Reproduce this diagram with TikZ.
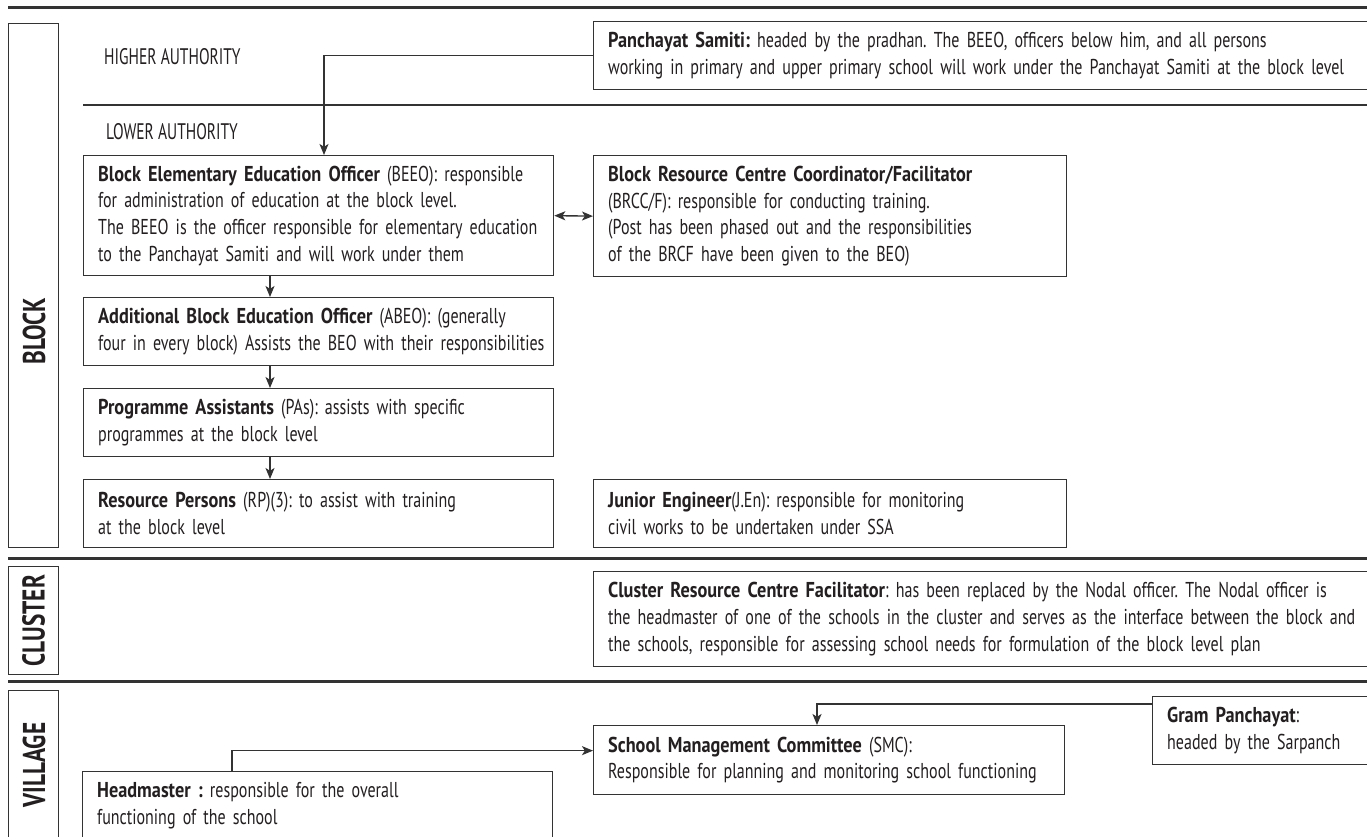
\documentclass[tikz,border=0pt]{standalone}
\usepackage{fontspec}
\setmainfont{PT Sans}[FakeStretch=0.745]
\newfontfamily\bdfamily{PT Sans}[FakeStretch=0.85]
\newfontfamily\lblfont{PT Sans}[FakeStretch=0.74]
\newfontfamily\capsfont{PT Sans}[FakeStretch=0.69]
\usetikzlibrary{arrows.meta}
\definecolor{ink}{HTML}{231F20}
\definecolor{rule}{HTML}{333333}
\newcommand{\boxfont}{\fontsize{21.5}{26.7}\selectfont\setlength{\normalbaselineskip}{26.7pt}}
\newcommand{\bd}[1]{{\bdfamily\bfseries #1}}
\newcommand{\txline}[1]{\mbox{#1}}
\frenchspacing
\begin{document}
\begin{tikzpicture}[x=1pt,y=-1pt,
  bx/.style={draw=rule, line width=1.3pt, anchor=north west, align=left,
    inner xsep=14.5pt, inner ysep=0pt, text=ink, font=\boxfont},
  lbl/.style={draw=rule, line width=1.3pt, anchor=north west, inner sep=0pt},
  lbltext/.style={rotate=90, text=ink, font=\lblfont\bfseries\fontsize{31.5}{31.5}\selectfont, inner sep=0pt},
  plain/.style={text=ink, anchor=west, inner sep=0pt, font=\capsfont\fontsize{22.5}{26.7}\selectfont},
  sep/.style={draw=rule, line width=3pt},
  thin/.style={draw=rule, line width=1.3pt},
  arr/.style={draw=rule, line width=1.4pt, -{Stealth[length=11pt,width=9pt,inset=2.8pt]}},
  darr/.style={draw=rule, line width=1.4pt, {Stealth[length=11pt,width=9pt,inset=2.8pt]}-{Stealth[length=11pt,width=9pt,inset=2.8pt]}}
]
\useasboundingbox (0,0) rectangle (1367,837);
\clip (0,0) rectangle (1367,837);
\fill[white] (0,0) rectangle (1367,837);

% separators
\draw[sep] (8,8) -- (1367,8);
\draw[sep] (8,558) -- (1367,558);
\draw[sep] (8,681) -- (1367,681);
\draw[thin] (83,105) -- (1367,105);

% level labels
\node[lbl, minimum width=50pt, minimum height=524pt] (blockbox) at (8,23) {};
\node[lbltext] (blocklbl) at (34,331) {BLOCK};
\node[lbl, minimum width=50pt, minimum height=108pt] (clusterbox) at (8,566) {};
\node[lbltext] (clusterlbl) at (clusterbox.center) {CLUSTER};
\node[lbl, minimum width=50pt, minimum height=170pt] (villagebox) at (8,690) {};
\node[lbltext] (villagelbl) at (34,765) {VILLAGE};

\node[plain] (higher) at (104,57) {HIGHER AUTHORITY};
\node[plain] (lower) at (106,132) {LOWER AUTHORITY};

% block level
\node[bx, minimum width=800pt, text width=771pt, minimum height=68pt] (pan) at (593,21)
 {\txline{\bd{Panchayat Samiti:} headed by the pradhan. The BEEO, officers below him, and all persons}\\
  \txline{working in primary and upper primary school will work under the Panchayat Samiti at the block level}};

\node[bx, minimum width=470pt, text width=441pt, minimum height=120pt] (beeo) at (83,155)
 {\txline{\bd{Block Elementary Education Officer} (BEEO): responsible}\\
  \txline{for administration of education at the block level.}\\
  \txline{The BEEO is the officer responsible for elementary education}\\
  \txline{to the Panchayat Samiti and will work under them}};

\node[bx, minimum width=473pt, text width=444pt, minimum height=121pt] (brcc) at (593,155)
 {\txline{\bd{Block Resource Centre Coordinator/Facilitator}}\\
  \txline{(BRCC/F): responsible for conducting training.}\\
  \txline{(Post has been phased out and the responsibilities}\\
  \txline{of the BRCF have been given to the BEO)}};

\node[bx, minimum width=470pt, text width=441pt, minimum height=68pt] (abeo) at (83,297)
 {\txline{\bd{Additional Block Education Officer} (ABEO): (generally}\\
  \txline{four in every block) Assists the BEO with their responsibilities}};

\node[bx, minimum width=470pt, text width=441pt, minimum height=68pt] (pa) at (83,388)
 {\txline{\bd{Programme Assistants} (PAs): assists with specific}\\
  \txline{programmes at the block level}};

\node[bx, minimum width=470pt, text width=441pt, minimum height=68pt] (rp) at (83,479)
 {\txline{\bd{Resource Persons} (RP)(3): to assist with training}\\
  \txline{at the block level}};

\node[bx, minimum width=473pt, text width=444pt, minimum height=68pt] (je) at (593,479)
 {\txline{\bd{Junior Engineer}(J.En): responsible for monitoring}\\
  \txline{civil works to be undertaken under SSA}};

% cluster level
\node[bx, minimum width=800pt, text width=771pt, minimum height=95pt] (crc) at (593,571)
 {\txline{\bd{Cluster Resource Centre Facilitator}: has been replaced by the Nodal officer. The Nodal officer is}\\
  \txline{the headmaster of one of the schools in the cluster and serves as the interface between the block and}\\
  \txline{the schools, responsible for assessing school needs for formulation of the block level plan}};

% village level
\node[bx, minimum width=471pt, text width=442pt, minimum height=69pt] (smc) at (593,725)
 {\txline{\bd{School Management Committee} (SMC):}\\
  \txline{Responsible for planning and monitoring school functioning}};

\node[bx, minimum width=240pt, text width=211pt, minimum height=68pt] (gram) at (1152,696)
 {\txline{\bd{Gram Panchayat}:}\\
  \txline{headed by the Sarpanch}};

\node[bx, minimum width=470pt, text width=441pt, minimum height=68pt] (head) at (82,771)
 {\txline{\bd{Headmaster :} responsible for the overall}\\
  \txline{functioning of the school}};

% connectors
\draw[arr] (pan.west) -| ([xshift=241pt]beeo.north west);
\draw[darr] (beeo.east) -- (brcc.west);
\draw[arr] ([xshift=187pt]beeo.south west) -- ([xshift=187pt]abeo.north west);
\draw[arr] ([xshift=187pt]abeo.south west) -- ([xshift=187pt]pa.north west);
\draw[arr] ([xshift=187pt]pa.south west) -- ([xshift=187pt]rp.north west);
\draw[arr] ([yshift=-8pt]gram.north west) -| ([xshift=224pt]smc.north west);
\draw[arr] ([xshift=150pt]head.north west) |- ([yshift=9.5pt]smc.west);
\end{tikzpicture}
\end{document}
